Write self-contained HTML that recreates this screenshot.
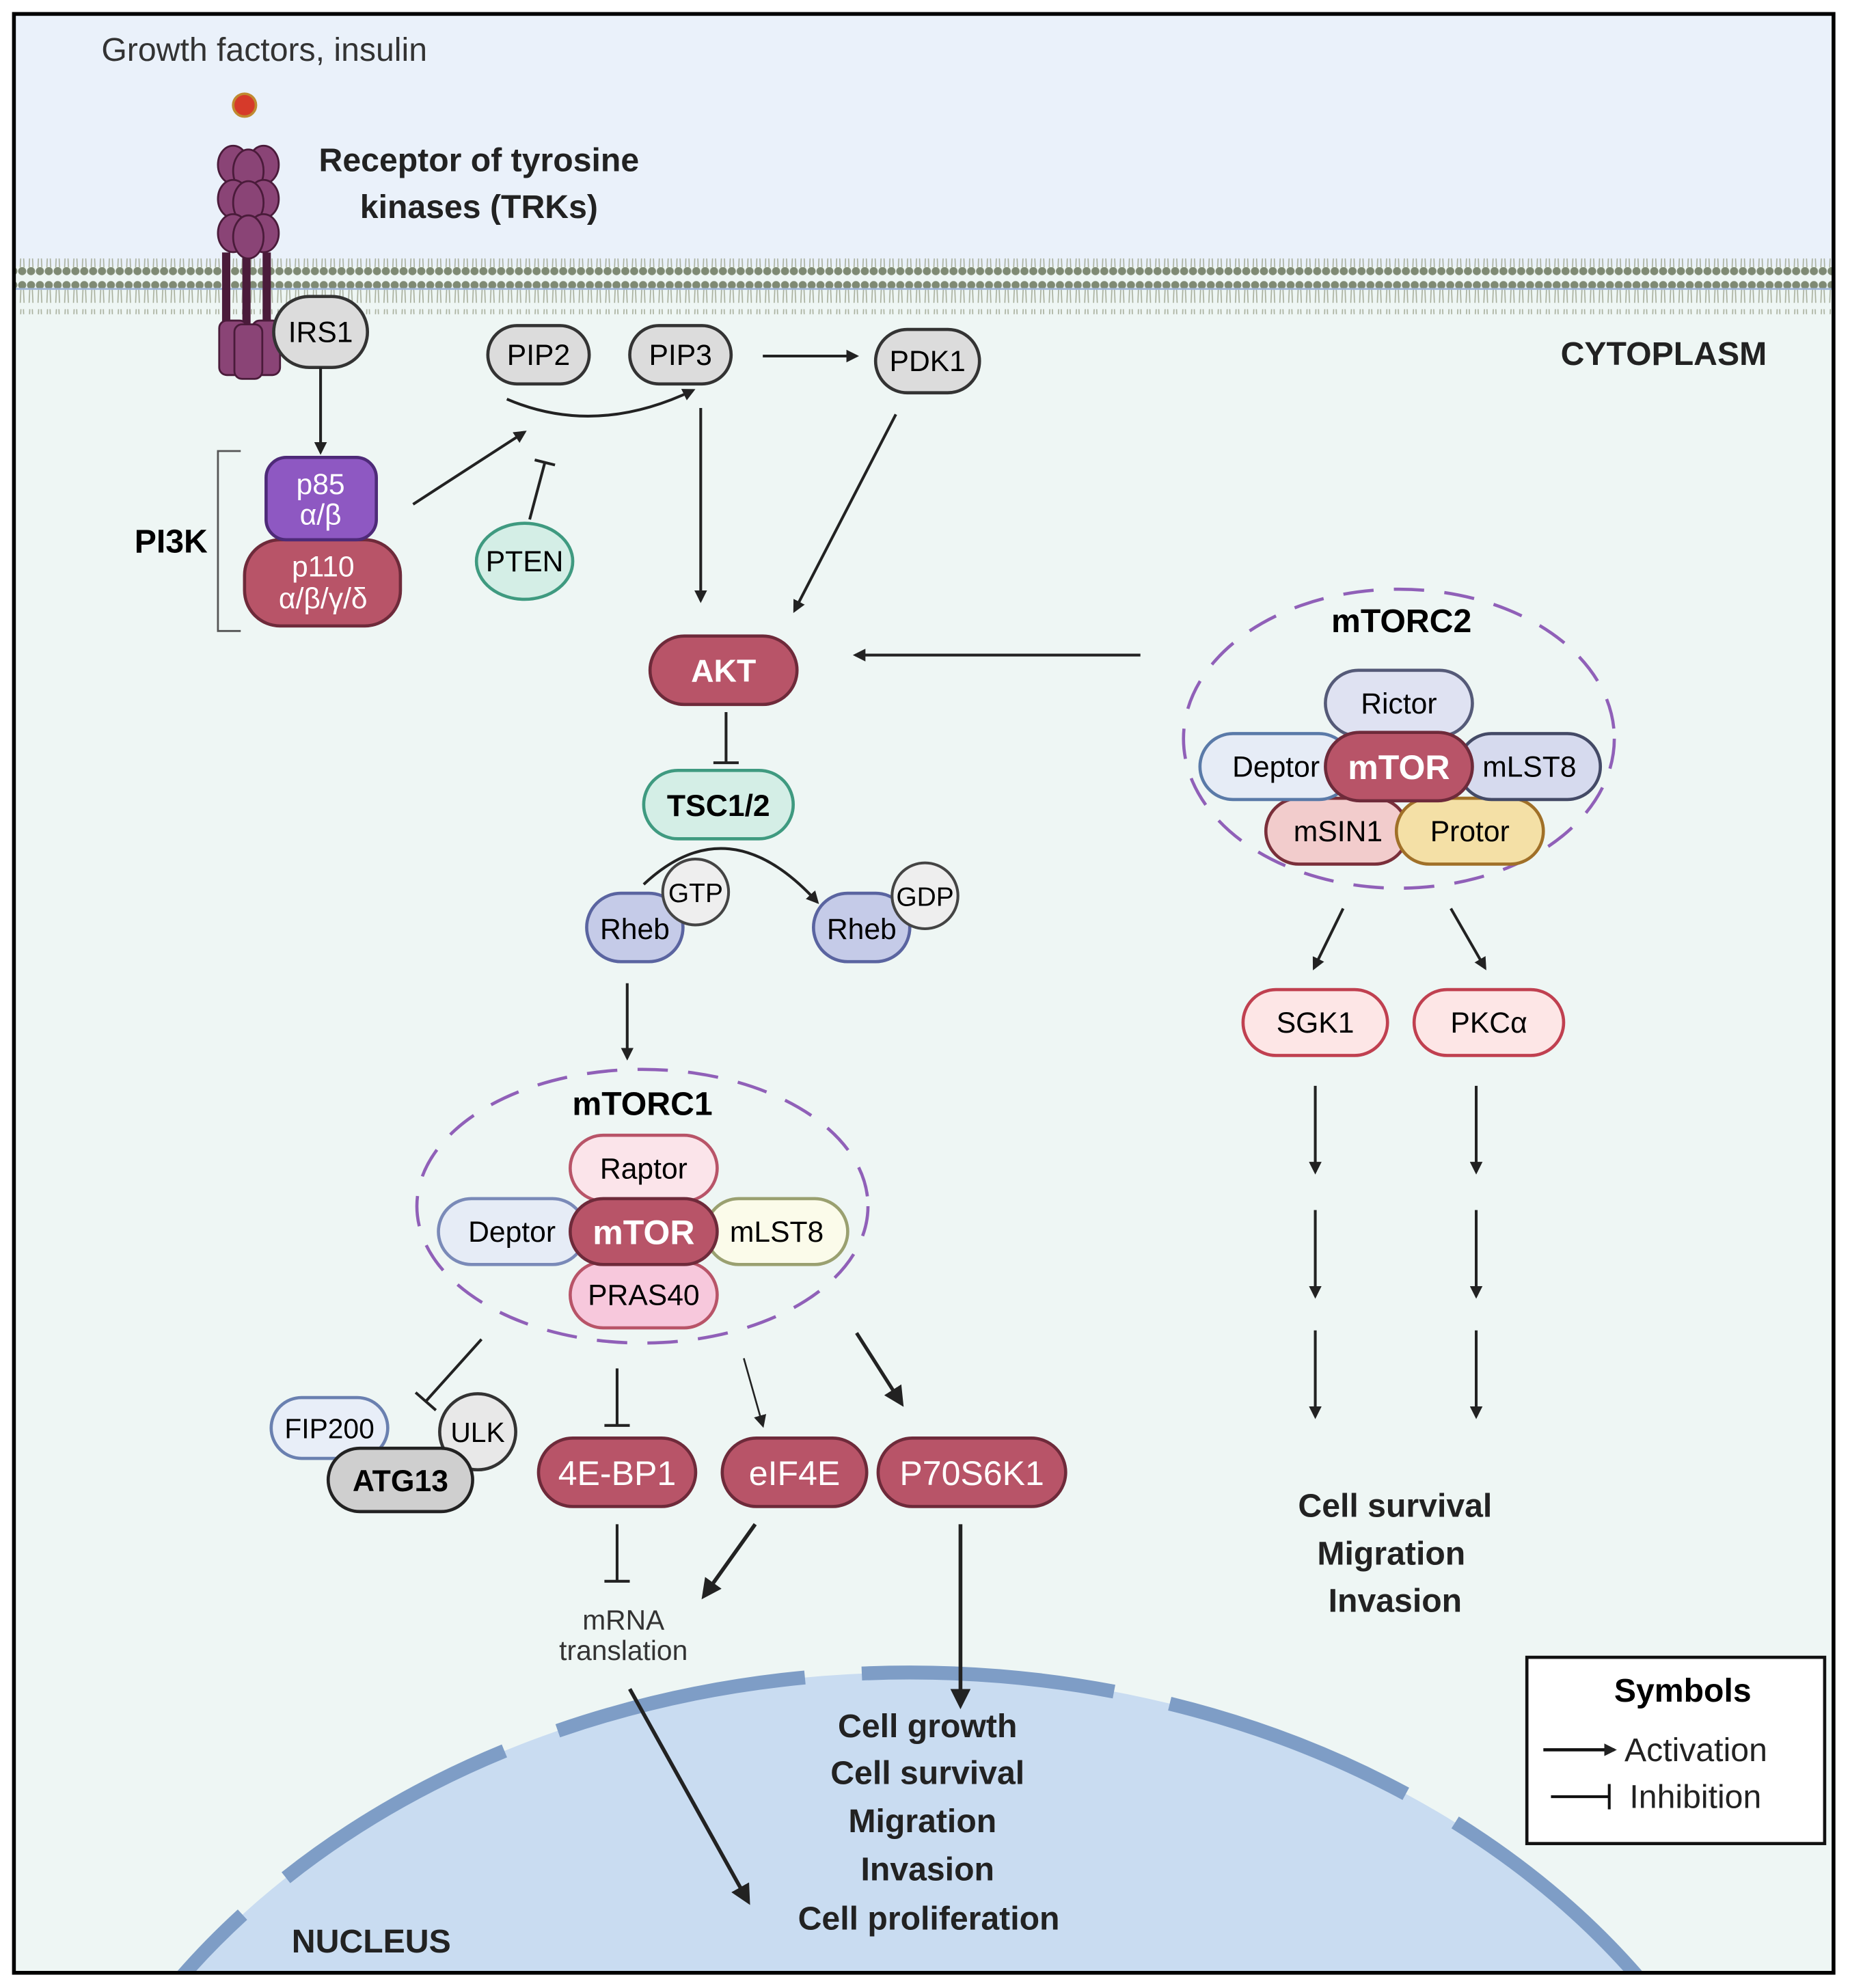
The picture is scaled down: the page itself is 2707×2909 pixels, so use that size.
<!DOCTYPE html>
<html><head><meta charset="utf-8"><style>
html,body{margin:0;padding:0;background:#fff;width:2707px;height:2909px;overflow:hidden}
svg{display:block}
text{font-family:"Liberation Sans",Arial,sans-serif}
</style></head><body>
<svg width="2707" height="2909" viewBox="0 0 1460 1569" preserveAspectRatio="none" xmlns="http://www.w3.org/2000/svg">
<defs>
<marker id="ah" markerWidth="10" markerHeight="10" refX="8" refY="5" orient="auto" markerUnits="userSpaceOnUse" viewBox="0 0 10 10"><path d="M0,0 L10,5 L0,10 z" fill="#222"/></marker>
<marker id="ahb" markerWidth="16" markerHeight="16" refX="12" refY="8" orient="auto" markerUnits="userSpaceOnUse" viewBox="0 0 16 16"><path d="M0,0 L16,8 L0,16 z" fill="#222"/></marker>
<pattern id="mem" x="0" y="0" width="7" height="44" patternUnits="userSpaceOnUse">
<circle cx="3.5" cy="5" r="3.2" fill="#7f8a74"/>
<circle cx="3.5" cy="38" r="3.2" fill="#7f8a74"/>
<path d="M2.5,8 L2,19 M4.5,8 L5,19 M2.5,24 L2,35 M4.5,24 L5,35" stroke="#a9b09e" stroke-width="0.9"/>
</pattern>
<clipPath id="frame"><rect x="12" y="12" width="1434" height="1544"/></clipPath>
</defs>
<rect width="1460" height="1569" fill="#fff"/>
<g clip-path="url(#frame)">
<rect x="0" y="0" width="1460" height="210" fill="#eaf1fa"/>
<rect x="0" y="210" width="1460" height="1360" fill="#eef6f4"/>
<rect x="0" y="204" width="1460" height="44" fill="url(#mem)"/>
<line x1="0" y1="228" x2="1460" y2="228" stroke="#9fb5d8" stroke-width="1.5"/>
<ellipse cx="718" cy="1880" rx="700" ry="560" fill="#c9dcf1"/>
<ellipse cx="718" cy="1880" rx="700" ry="560" fill="none" stroke="#7e9dc6" stroke-width="11" stroke-dasharray="200,45"/>
</g>
<rect x="11" y="11" width="1436" height="1546" fill="none" stroke="#000" stroke-width="3"/>

<circle cx="193" cy="83" r="9" fill="#d63a2a" stroke="#c08a30" stroke-width="2"/>
<g fill="#8a4476" stroke="#4a1b3a" stroke-width="1.5">
<rect x="176" y="200" width="5" height="62" fill="#4a1b3a"/>
<rect x="192" y="200" width="5" height="62" fill="#4a1b3a"/>
<rect x="208" y="200" width="5" height="62" fill="#4a1b3a"/>
<ellipse cx="184" cy="130" rx="12" ry="15"/><ellipse cx="208" cy="130" rx="12" ry="15"/><ellipse cx="196" cy="135" rx="12" ry="17"/>
<ellipse cx="184" cy="157" rx="12" ry="15"/><ellipse cx="208" cy="157" rx="12" ry="15"/><ellipse cx="196" cy="160" rx="12" ry="17"/>
<ellipse cx="184" cy="184" rx="12" ry="15"/><ellipse cx="208" cy="184" rx="12" ry="15"/><ellipse cx="196" cy="187" rx="12" ry="17"/>
<rect x="173" y="253" width="22" height="43" rx="6"/><rect x="199" y="253" width="22" height="43" rx="6"/><rect x="185" y="256" width="22" height="43" rx="6"/>
</g>
<text x="80" y="48" font-size="26" fill="#333">Growth factors, insulin</text>
<text x="378" y="135" font-size="26" font-weight="bold" text-anchor="middle" fill="#222">Receptor of tyrosine</text>
<text x="378" y="172" font-size="26" font-weight="bold" text-anchor="middle" fill="#222">kinases (TRKs)</text>
<text x="1313" y="288" font-size="26" font-weight="bold" text-anchor="middle" fill="#222">CYTOPLASM</text>

<g font-size="23" text-anchor="middle">
<rect x="216" y="234" width="74" height="56" rx="28" fill="#dcdcdc" stroke="#333" stroke-width="2.5"/><text x="253" y="270">IRS1</text>
<rect x="385" y="257" width="80" height="46" rx="23" fill="#dcdcdc" stroke="#333" stroke-width="2.5"/><text x="425" y="288">PIP2</text>
<rect x="497" y="257" width="80" height="46" rx="23" fill="#dcdcdc" stroke="#333" stroke-width="2.5"/><text x="537" y="288">PIP3</text>
<rect x="691" y="260" width="82" height="50" rx="25" fill="#dcdcdc" stroke="#333" stroke-width="2.5"/><text x="732" y="293">PDK1</text>
<rect x="193" y="426" width="123" height="68" rx="28" fill="#b85468" stroke="#6e2a3a" stroke-width="2.5"/>
<text x="255" y="455" fill="#fff">p110</text><text x="255" y="480" fill="#fff">α/β/γ/δ</text>
<rect x="210" y="361" width="87" height="65" rx="16" fill="#8e58c2" stroke="#4e2a78" stroke-width="2.5"/>
<text x="253" y="390" fill="#fff">p85</text><text x="253" y="414" fill="#fff">α/β</text>
<ellipse cx="414" cy="443" rx="38" ry="30" fill="#d4eee6" stroke="#3f9a80" stroke-width="2.5"/><text x="414" y="451">PTEN</text>
<rect x="513" y="502" width="116" height="54" rx="27" fill="#b85468" stroke="#6e2a3a" stroke-width="2.5"/><text x="571" y="538" fill="#fff" font-weight="bold" font-size="25">AKT</text>
<rect x="508" y="608" width="118" height="54" rx="27" fill="#d4eee6" stroke="#3f9a80" stroke-width="2.5"/><text x="567" y="644" font-weight="bold" font-size="24">TSC1/2</text>
<rect x="463" y="705" width="76" height="54" rx="27" fill="#c5cbe8" stroke="#5a64a0" stroke-width="2.5"/><text x="501" y="741">Rheb</text>
<circle cx="549" cy="704" r="26" fill="#eeeeee" stroke="#444" stroke-width="2.2"/><text x="549" y="712" font-size="21">GTP</text>
<rect x="642" y="705" width="76" height="54" rx="27" fill="#c5cbe8" stroke="#5a64a0" stroke-width="2.5"/><text x="680" y="741">Rheb</text>
<circle cx="730" cy="707" r="26" fill="#eeeeee" stroke="#444" stroke-width="2.2"/><text x="730" y="715" font-size="21">GDP</text>

<ellipse cx="507" cy="952" rx="178" ry="108" fill="none" stroke="#9060b8" stroke-width="2.5" stroke-dasharray="24,16"/>
<text x="507" y="880" font-weight="bold" font-size="26">mTORC1</text>
<rect x="450" y="896" width="116" height="52" rx="26" fill="#fbe4ea" stroke="#b85468" stroke-width="2.5"/><text x="508" y="930">Raptor</text>
<rect x="450" y="996" width="116" height="52" rx="26" fill="#f7c8dc" stroke="#b85468" stroke-width="2.5"/><text x="508" y="1030">PRAS40</text>
<rect x="346" y="946" width="116" height="52" rx="26" fill="#e6ecf6" stroke="#7a8ab8" stroke-width="2.5"/><text x="404" y="980">Deptor</text>
<rect x="557" y="946" width="112" height="52" rx="26" fill="#fbfbea" stroke="#9aa070" stroke-width="2.5"/><text x="613" y="980">mLST8</text>
<rect x="450" y="946" width="116" height="52" rx="26" fill="#b85468" stroke="#6e2a3a" stroke-width="2.5"/><text x="508" y="982" fill="#fff" font-weight="bold" font-size="27">mTOR</text>

<ellipse cx="1104" cy="583" rx="170" ry="118" fill="none" stroke="#9060b8" stroke-width="2.5" stroke-dasharray="24,16"/>
<text x="1106" y="499" font-weight="bold" font-size="26">mTORC2</text>
<rect x="1046" y="529" width="116" height="52" rx="26" fill="#dfe2f2" stroke="#555a78" stroke-width="2.5"/><text x="1104" y="563">Rictor</text>
<rect x="999" y="630" width="112" height="52" rx="26" fill="#f2cccc" stroke="#7a2f3a" stroke-width="2.5"/><text x="1056" y="664">mSIN1</text>
<rect x="1102" y="630" width="116" height="52" rx="26" fill="#f4e0a6" stroke="#a07028" stroke-width="2.5"/><text x="1160" y="664">Protor</text>
<rect x="947" y="579" width="120" height="52" rx="26" fill="#e6ecf6" stroke="#5a7aa8" stroke-width="2.5"/><text x="1007" y="613">Deptor</text>
<rect x="1151" y="579" width="112" height="52" rx="26" fill="#d6daee" stroke="#444a66" stroke-width="2.5"/><text x="1207" y="613">mLST8</text>
<rect x="1046" y="578" width="116" height="54" rx="27" fill="#b85468" stroke="#6e2a3a" stroke-width="2.5"/><text x="1104" y="615" fill="#fff" font-weight="bold" font-size="27">mTOR</text>
<rect x="981" y="781" width="114" height="52" rx="26" fill="#fde6e6" stroke="#c04050" stroke-width="2.5"/><text x="1038" y="815">SGK1</text>
<rect x="1116" y="781" width="118" height="52" rx="26" fill="#fde6e6" stroke="#c04050" stroke-width="2.5"/><text x="1175" y="815">PKCα</text>

<rect x="214" y="1103" width="92" height="48" rx="24" fill="#e8eef8" stroke="#6a80b0" stroke-width="2.5"/><text x="260" y="1135" font-size="22">FIP200</text>
<circle cx="377" cy="1130" r="30" fill="#e8e8e8" stroke="#333" stroke-width="2.5"/><text x="377" y="1138" font-size="22">ULK</text>
<rect x="259" y="1143" width="114" height="50" rx="25" fill="#cfcfcf" stroke="#222" stroke-width="2.5"/><text x="316" y="1177" font-weight="bold" font-size="24">ATG13</text>
<g font-size="27" fill="#fff">
<rect x="425" y="1135" width="124" height="54" rx="27" fill="#b85468" stroke="#6e2a3a" stroke-width="2.5"/><text x="487" y="1172" fill="#fff">4E-BP1</text>
<rect x="570" y="1135" width="114" height="54" rx="27" fill="#b85468" stroke="#6e2a3a" stroke-width="2.5"/><text x="627" y="1172" fill="#fff">eIF4E</text>
<rect x="693" y="1135" width="148" height="54" rx="27" fill="#b85468" stroke="#6e2a3a" stroke-width="2.5"/><text x="767" y="1172" fill="#fff">P70S6K1</text>
</g>
</g>

<g stroke="#222" stroke-width="2.2" fill="none">
<line x1="253" y1="290" x2="253" y2="357" marker-end="url(#ah)"/>
<line x1="326" y1="398" x2="414" y2="341" marker-end="url(#ah)"/>
<path d="M400,315 Q470,345 547,308" marker-end="url(#ah)"/>
<line x1="418" y1="410" x2="430" y2="365"/><line x1="422" y1="363" x2="438" y2="367"/>
<line x1="602" y1="281" x2="676" y2="281" marker-end="url(#ah)"/>
<line x1="553" y1="322" x2="553" y2="474" marker-end="url(#ah)"/>
<line x1="707" y1="327" x2="627" y2="482" marker-end="url(#ah)"/>
<line x1="900" y1="517" x2="675" y2="517" marker-end="url(#ah)"/>
<line x1="573" y1="562" x2="573" y2="602"/><line x1="563" y1="602" x2="583" y2="602"/>
<path d="M508,698 Q575,635 645,712" marker-end="url(#ah)"/>
<line x1="495" y1="776" x2="495" y2="835" marker-end="url(#ah)"/>
<line x1="1060" y1="717" x2="1037" y2="764" marker-end="url(#ah)"/>
<line x1="1145" y1="717" x2="1172" y2="764" marker-end="url(#ah)"/>
<line x1="1038" y1="857" x2="1038" y2="925" marker-end="url(#ah)"/>
<line x1="1038" y1="955" x2="1038" y2="1023" marker-end="url(#ah)"/>
<line x1="1038" y1="1050" x2="1038" y2="1118" marker-end="url(#ah)"/>
<line x1="1165" y1="857" x2="1165" y2="925" marker-end="url(#ah)"/>
<line x1="1165" y1="955" x2="1165" y2="1023" marker-end="url(#ah)"/>
<line x1="1165" y1="1050" x2="1165" y2="1118" marker-end="url(#ah)"/>
<line x1="380" y1="1057" x2="336" y2="1106"/><line x1="328" y1="1099" x2="344" y2="1113"/>
<line x1="487" y1="1080" x2="487" y2="1125"/><line x1="477" y1="1125" x2="497" y2="1125"/>
<line x1="587" y1="1072" x2="602" y2="1125" stroke-width="1.4" marker-end="url(#ah)"/>
<line x1="676" y1="1052" x2="711" y2="1107" stroke-width="2.8" marker-end="url(#ahb)"/>
<line x1="487" y1="1203" x2="487" y2="1248"/><line x1="477" y1="1248" x2="497" y2="1248"/>
<line x1="596" y1="1203" x2="556" y2="1259" stroke-width="3" marker-end="url(#ahb)"/>
<line x1="758" y1="1203" x2="758" y2="1345" stroke-width="3" marker-end="url(#ahb)"/>
<line x1="497" y1="1333" x2="590" y2="1500" stroke-width="3" marker-end="url(#ahb)"/>
</g>

<path d="M190,356 L172,356 L172,498 L190,498" fill="none" stroke="#555" stroke-width="1.5"/>
<text x="135" y="436" font-size="26" font-weight="bold" text-anchor="middle">PI3K</text>

<g text-anchor="middle" fill="#222">
<text x="492" y="1286" font-size="22" fill="#333">mRNA</text>
<text x="492" y="1310" font-size="22" fill="#333">translation</text>
<g font-size="26" font-weight="bold">
<text x="732" y="1371">Cell growth</text>
<text x="732" y="1408">Cell survival</text>
<text x="728" y="1446">Migration</text>
<text x="732" y="1484">Invasion</text>
<text x="733" y="1523">Cell proliferation</text>
<text x="1101" y="1197">Cell survival</text>
<text x="1098" y="1235">Migration</text>
<text x="1101" y="1272">Invasion</text>
<text x="293" y="1541">NUCLEUS</text>
</g>
</g>

<rect x="1205" y="1308" width="235" height="147" fill="#fff" stroke="#111" stroke-width="2.5"/>
<text x="1328" y="1343" font-size="26" font-weight="bold" text-anchor="middle">Symbols</text>
<line x1="1218" y1="1381" x2="1274" y2="1381" stroke="#111" stroke-width="2.5" marker-end="url(#ah)"/>
<text x="1282" y="1390" font-size="26" fill="#222">Activation</text>
<line x1="1224" y1="1418" x2="1270" y2="1418" stroke="#111" stroke-width="2.2"/>
<line x1="1270" y1="1408" x2="1270" y2="1428" stroke="#111" stroke-width="2.2"/>
<text x="1286" y="1427" font-size="26" fill="#222">Inhibition</text>
</svg>
</body></html>
